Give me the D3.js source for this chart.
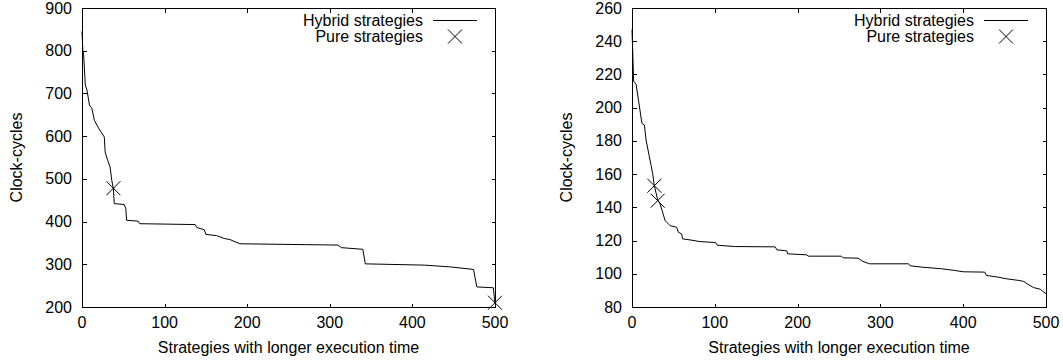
<!DOCTYPE html>
<html>
<head>
<meta charset="utf-8">
<script src="https://cdn.jsdelivr.net/npm/d3@7"></script>
<style>
  html, body { margin: 0; padding: 0; background: #fff; }
  svg { display: block; }
  text { font-family: "Liberation Sans", Arial, Helvetica, sans-serif; fill: #000; }
</style>
</head>
<body>
<svg id="chart" width="1063" height="360"></svg>
<script>
// ---- Data ----
const xTicks = [0, 100, 200, 300, 400, 500];
const leftYTicks = [200, 300, 400, 500, 600, 700, 800, 900];
const rightYTicks = [80, 100, 120, 140, 160, 180, 200, 220, 240, 260];

const xLabel = "Strategies with longer execution time";
const yLabel = "Clock-cycles";
const legendHybrid = "Hybrid strategies";
const legendPure = "Pure strategies";

// [strategy index, clock-cycles]
const leftHybrid = [
  [0,845],[1,801],[2,790],[4,720],[6,708],[9,673],[12,665],[15,637],[20,619],
  [27,598],[28,563],[31,544],[34,528],[36,497],[38,477],[39,442],[51,440],[53,431],
  [54,403],[68,401],[70,395],[137,393],[139,386],[148,381],[150,370],[163,367],
  [173,360],[179,358],[191,348],[310,345],[314,339],[340,335],[343,301],[415,298],
  [445,294],[474,288],[478,247],[498,245],[500,208]
];
const leftPure = [[38,478],[500,210]];

const rightHybrid = [
  [0,247],[2,216],[5,214],[12,190.5],[15,189.5],[17,180.5],[21,170.4],[25,160.3],
  [27,153],[31,144.5],[34,142],[40,132],[46,129],[54,128],[56,125],[60,124],[61,121],
  [70,120.4],[82,119.4],[101,118.8],[103,117.2],[124,116.4],[173,116.2],[175,114.4],
  [187,113.8],[188,112],[211,111.4],[213,110.6],[253,110.6],[255,109.6],[273,109.4],
  [279,107.4],[287,106],[334,106],[336,104.8],[350,104],[374,103],[390,102],[400,101.2],
  [426,101],[428,99],[442,98],[452,97],[467,96],[473,95.4],[477,94],[485,91.7],
  [493,90.7],[500,88]
];
const rightPure = [[27,153],[31,144]];

// ---- Drawing ----
const svg = d3.select("#chart");
const FS = 16;

function drawPanel(cfg) {
  const x = d3.scaleLinear().domain([0, 500]).range([cfg.x0, cfg.x1]);
  const y = d3.scaleLinear().domain(cfg.yDomain).range([cfg.y1, cfg.y0]);
  const g = svg.append("g");
  const T = 4;

  // frame
  g.append("rect")
    .attr("x", cfg.x0 + 0.5).attr("y", cfg.y0 + 0.5)
    .attr("width", cfg.x1 - cfg.x0).attr("height", cfg.y1 - cfg.y0)
    .attr("fill", "none").attr("stroke", "#000").attr("stroke-width", 1)
    .attr("shape-rendering", "crispEdges");

  // x ticks (bottom + mirrored top)
  xTicks.forEach(t => {
    const px = Math.round(x(t)) + 0.5;
    g.append("line").attr("x1", px).attr("x2", px)
      .attr("y1", cfg.y1 + 0.5).attr("y2", cfg.y1 + 0.5 - T)
      .attr("stroke", "#000").attr("shape-rendering", "crispEdges");
    g.append("line").attr("x1", px).attr("x2", px)
      .attr("y1", cfg.y0 + 0.5).attr("y2", cfg.y0 + 0.5 + T)
      .attr("stroke", "#000").attr("shape-rendering", "crispEdges");
    g.append("text").attr("x", x(t)).attr("y", cfg.y1 + 21)
      .attr("text-anchor", "middle").attr("font-size", FS).text(t);
  });

  // y ticks (left + mirrored right)
  cfg.yTicks.forEach(t => {
    const py = Math.round(y(t)) + 0.5;
    g.append("line").attr("x1", cfg.x0 + 0.5).attr("x2", cfg.x0 + 0.5 + T)
      .attr("y1", py).attr("y2", py)
      .attr("stroke", "#000").attr("shape-rendering", "crispEdges");
    g.append("line").attr("x1", cfg.x1 + 0.5).attr("x2", cfg.x1 + 0.5 - T)
      .attr("y1", py).attr("y2", py)
      .attr("stroke", "#000").attr("shape-rendering", "crispEdges");
    g.append("text").attr("x", cfg.x0 - 10).attr("y", y(t))
      .attr("dy", "0.35em").attr("text-anchor", "end")
      .attr("font-size", FS).text(t);
  });

  // axis labels
  g.append("text").attr("x", (cfg.x0 + cfg.x1) / 2).attr("y", cfg.y1 + 46)
    .attr("text-anchor", "middle").attr("font-size", FS).text(xLabel);
  g.append("text")
    .attr("transform", `translate(${cfg.yLabelX},${(cfg.y0 + cfg.y1) / 2}) rotate(-90)`)
    .attr("text-anchor", "middle").attr("font-size", FS).text(yLabel);

  // hybrid line
  const line = d3.line().x(d => x(d[0])).y(d => y(d[1]));
  g.append("path").datum(cfg.hybrid)
    .attr("d", line).attr("fill", "none")
    .attr("stroke", "#000").attr("stroke-width", 1);

  // pure markers (X)
  const s = 7;
  const cross = (cx, cy) => `M${cx - s},${cy - s}L${cx + s},${cy + s}M${cx - s},${cy + s}L${cx + s},${cy - s}`;
  g.selectAll("path.pure").data(cfg.pure).enter().append("path")
    .attr("class", "pure")
    .attr("d", d => cross(x(d[0]), y(d[1])))
    .attr("stroke", "#000").attr("stroke-width", 1).attr("fill", "none");

  // legend
  const lx = cfg.x1 - 72;
  g.append("text").attr("x", lx).attr("y", cfg.y0 + 18)
    .attr("text-anchor", "end").attr("font-size", FS).text(legendHybrid);
  g.append("line").attr("x1", lx + 10).attr("x2", lx + 54)
    .attr("y1", cfg.y0 + 12.5).attr("y2", cfg.y0 + 12.5)
    .attr("stroke", "#000").attr("stroke-width", 1);
  g.append("text").attr("x", lx).attr("y", cfg.y0 + 34)
    .attr("text-anchor", "end").attr("font-size", FS).text(legendPure);
  g.append("path").attr("d", cross(lx + 32, cfg.y0 + 28.5))
    .attr("stroke", "#000").attr("stroke-width", 1).attr("fill", "none");
}

drawPanel({
  x0: 82, x1: 495, y0: 8, y1: 307,
  yDomain: [200, 900], yTicks: leftYTicks, yLabelX: 22,
  hybrid: leftHybrid, pure: leftPure
});
drawPanel({
  x0: 632, x1: 1046, y0: 8, y1: 307,
  yDomain: [80, 260], yTicks: rightYTicks, yLabelX: 572,
  hybrid: rightHybrid, pure: rightPure
});
</script>
</body>
</html>
